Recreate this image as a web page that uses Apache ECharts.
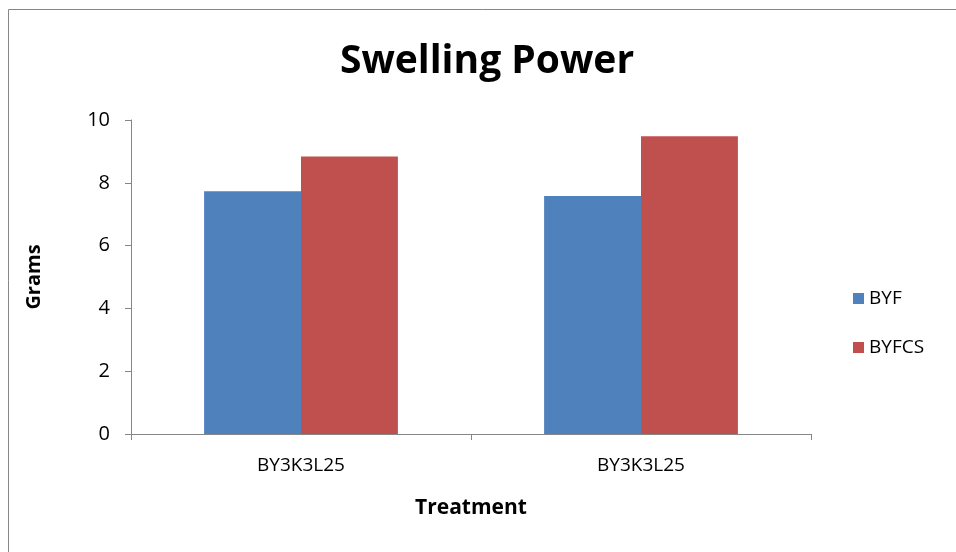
<!DOCTYPE html>
<html>
<head>
<meta charset="utf-8">
<script src="https://cdn.jsdelivr.net/npm/echarts@6/dist/echarts.min.js"></script>
<style>
html,body{margin:0;padding:0;background:#fff;}
#chart{width:956px;height:552px;}
</style>
</head>
<body>
<div id="chart"></div>
<script>
const categories = ["BY3K3L25", "BY3K3L25"];
const seriesNames = ["BYF", "BYFCS"];
const byfValues = [7.73, 7.58];
const byfcsValues = [8.84, 9.48];
const yTicks = [0, 2, 4, 6, 8, 10];

const FONT = "'Open Sans', Lato, sans-serif";
const chart = echarts.init(document.getElementById('chart'), null, {renderer: 'canvas'});
chart.setOption({
  backgroundColor: '#ffffff',
  animation: false,
  title: {
    text: 'Swelling Power',
    left: 487, top: 42, textAlign: 'center', padding: 0,
    textStyle: {fontFamily: FONT, fontSize: 39, fontWeight: 'bold', color: '#000'}
  },
  legend: {
    orient: 'vertical',
    left: 853, top: 289, padding: 0,
    itemWidth: 11, itemHeight: 11, itemGap: 30,
    icon: 'rect',
    textStyle: {fontFamily: FONT, fontSize: 19, color: '#000'},
    data: seriesNames
  },
  grid: {left: 131, right: 145, top: 120, bottom: 118, containLabel: false},
  xAxis: {
    type: 'category',
    data: categories,
    name: 'Treatment',
    nameLocation: 'middle',
    nameGap: 64,
    nameTextStyle: {fontFamily: FONT, fontSize: 21, fontWeight: 'bold', color: '#000'},
    axisLine: {lineStyle: {color: '#868686', width: 1}},
    axisTick: {show: true, length: 6, lineStyle: {color: '#868686'}},
    axisLabel: {fontFamily: FONT, fontSize: 19, color: '#000', margin: 22, interval: 0},
    splitLine: {show: false}
  },
  yAxis: {
    type: 'value',
    min: yTicks[0], max: yTicks[yTicks.length - 1], interval: 2,
    name: 'Grams',
    nameLocation: 'middle',
    nameGap: 87,
    nameRotate: 90,
    nameTextStyle: {fontFamily: FONT, fontSize: 20, fontWeight: 'bold', color: '#000'},
    axisLine: {show: true, lineStyle: {color: '#868686', width: 1}},
    axisTick: {show: true, length: 6, lineStyle: {color: '#868686'}},
    axisLabel: {fontFamily: FONT, fontSize: 20, color: '#000', margin: 21},
    splitLine: {show: false}
  },
  series: [
    {name: seriesNames[0], type: 'bar', data: byfValues, barGap: '0%', barCategoryGap: '43%',
     itemStyle: {color: '#4F81BD'}},
    {name: seriesNames[1], type: 'bar', data: byfcsValues, barGap: '0%', barCategoryGap: '43%',
     itemStyle: {color: '#C0504D'}}
  ],
  graphic: [
    {type: 'line', shape: {x1: 8.5, y1: 9.5, x2: 956, y2: 9.5}, style: {stroke: '#868686', lineWidth: 1}},
    {type: 'line', shape: {x1: 8.5, y1: 9.5, x2: 8.5, y2: 552}, style: {stroke: '#868686', lineWidth: 1}}
  ]
});
</script>
</body>
</html>
